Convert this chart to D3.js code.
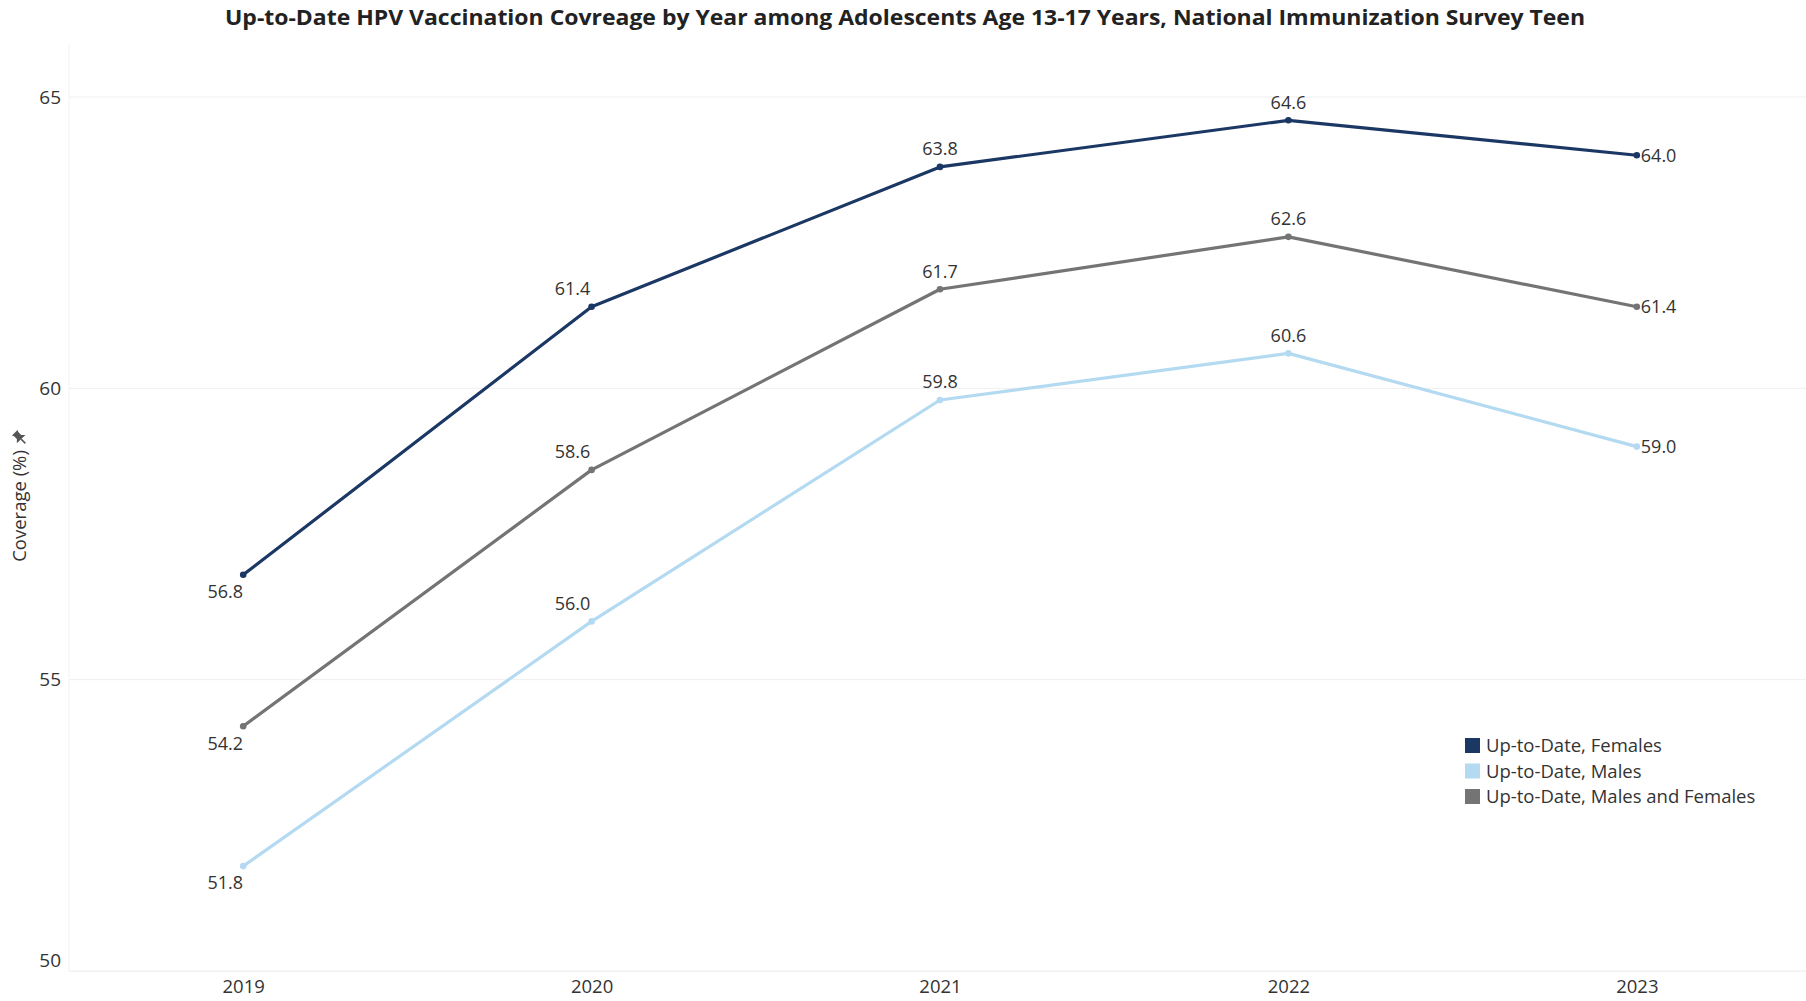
<!DOCTYPE html>
<html>
<head>
<meta charset="utf-8">
<script src="https://cdn.jsdelivr.net/npm/d3@7"></script>
<style>
  html, body { margin: 0; padding: 0; background: #fff; }
  svg { display: block; font-family: "Open Sans", "Noto Sans", sans-serif; }
</style>
</head>
<body>
<svg id="chart" width="1806" height="1001"></svg>
<script>
// ---- data ----
const years = ["2019", "2020", "2021", "2022", "2023"];
const seriesNames = ["Up-to-Date, Females", "Up-to-Date, Males", "Up-to-Date, Males and Females"];
const females = [56.8, 61.4, 63.8, 64.6, 64.0];
const males = [51.8, 56.0, 59.8, 60.6, 59.0];
const both = [54.2, 58.6, 61.7, 62.6, 61.4];
const yTicks = [50, 55, 60, 65];
const titleText = "Up-to-Date HPV Vaccination Covreage by Year among Adolescents Age 13-17 Years, National Immunization Survey Teen";
const yAxisTitle = "Coverage (%)";

// ---- layout / style ----
const colors = ["#1b3764", "#b3daf1", "#747474"];
const labelPos = ["bottomleft", "topleft", "top", "top", "right"];
const W = 1806, H = 1001;
const plotLeft = 69, plotRight = 1811, plotTop = 44, plotBottom = 971;

const svg = d3.select("#chart");

const x = d3.scalePoint().domain(years).range([plotLeft, plotRight]).padding(0.5);
const y = d3.scaleLinear().domain([50, 65]).range([plotBottom, 97]);

// grid
svg.append("g").selectAll("line").data(yTicks).join("line")
  .attr("x1", plotLeft).attr("x2", W)
  .attr("y1", d => y(d)).attr("y2", d => y(d))
  .attr("stroke", "#efefef").attr("stroke-width", 1);
svg.append("line")
  .attr("x1", plotLeft).attr("x2", plotLeft)
  .attr("y1", plotTop).attr("y2", plotBottom)
  .attr("stroke", "#f2f2f2").attr("stroke-width", 1);

// y axis
const yAxis = d3.axisLeft(y).tickValues(yTicks).tickSize(0).tickPadding(8).tickFormat(d3.format("d"));
const gy = svg.append("g").attr("transform", `translate(${plotLeft},0)`).call(yAxis);
gy.select(".domain").remove();
gy.selectAll("text").attr("font-size", 19).attr("fill", "#333").attr("font-family", "Open Sans");
gy.selectAll(".tick").filter(d => d === 50).select("text").attr("y", -11);

// x axis
const xAxis = d3.axisBottom(x).tickSize(0).tickPadding(9);
const gx = svg.append("g").attr("transform", `translate(0,${plotBottom})`).call(xAxis);
gx.select(".domain").attr("stroke", "#f2f2f2");
gx.selectAll("text").attr("font-size", 18.5).attr("fill", "#333").attr("font-family", "Open Sans");

// y axis title
const yt = svg.append("g").attr("transform", "translate(20,506) rotate(-90)");
yt.append("text").attr("text-anchor", "middle").attr("dy", "0.35em")
  .attr("font-size", 18.5).attr("fill", "#333").text(yAxisTitle);
// pin icon
const pin = svg.append("g").attr("transform", "translate(19,437) rotate(-45)");
pin.append("path").attr("d", "M-4,-6 L4,-6 L3,-4 L3,0 L6,3 L-6,3 L-3,0 L-3,-4 Z").attr("fill", "#555");
pin.append("line").attr("x1", 0).attr("y1", 3).attr("x2", 0).attr("y2", 9).attr("stroke", "#555").attr("stroke-width", 1.5);

// title
svg.append("text")
  .attr("x", 905).attr("y", 25)
  .attr("text-anchor", "middle")
  .attr("font-size", 22).attr("font-weight", "bold").attr("fill", "#222")
  .attr("textLength", 1360).attr("lengthAdjust", "spacingAndGlyphs")
  .text(titleText);

// series
const allSeries = [females, males, both];
const drawOrder = [2, 1, 0];
const line = d3.line().x((d, i) => x(years[i])).y(d => y(d));

drawOrder.forEach(si => {
  const vals = allSeries[si];
  svg.append("path").datum(vals)
    .attr("d", line).attr("fill", "none")
    .attr("stroke", colors[si]).attr("stroke-width", 3.2)
    .attr("stroke-linejoin", "round");
  svg.append("g").selectAll("circle").data(vals).join("circle")
    .attr("cx", (d, i) => x(years[i])).attr("cy", d => y(d))
    .attr("r", 3.3).attr("fill", colors[si]);
});

// data labels
allSeries.forEach((vals, si) => {
  svg.append("g").selectAll("text").data(vals).join("text")
    .attr("font-size", 18).attr("fill", "#333")
    .each(function(d, i) {
      const px = x(years[i]), py = y(d);
      const sel = d3.select(this);
      const p = labelPos[i];
      if (p === "bottomleft") {
        sel.attr("x", px - 18).attr("y", py + 17).attr("dy", "0.35em").attr("text-anchor", "middle");
      } else if (p === "topleft") {
        sel.attr("x", px - 19).attr("y", py - 18).attr("dy", "0.35em").attr("text-anchor", "middle");
      } else if (p === "top") {
        sel.attr("x", px).attr("y", py - 18).attr("dy", "0.35em").attr("text-anchor", "middle");
      } else {
        sel.attr("x", px + 4).attr("y", py).attr("dy", "0.35em").attr("text-anchor", "start");
      }
      sel.text(d3.format(".1f")(d));
    });
});

// legend
const lg = svg.append("g").attr("transform", "translate(1465,746)");
seriesNames.forEach((name, i) => {
  const row = lg.append("g").attr("transform", `translate(0,${i * 25.5})`);
  row.append("rect").attr("x", 0).attr("y", -8).attr("width", 15).attr("height", 15).attr("fill", colors[i]);
  row.append("text").attr("x", 21).attr("y", 0).attr("dy", "0.35em")
    .attr("font-size", 18.5).attr("fill", "#333").text(name);
});
</script>
</body>
</html>
